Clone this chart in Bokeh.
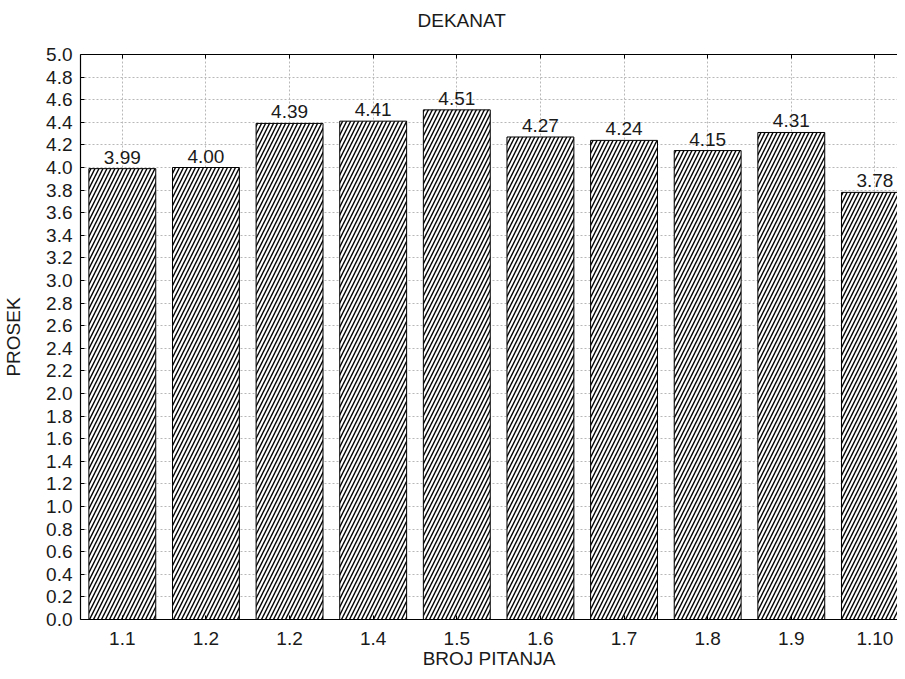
from bokeh.plotting import figure
from bokeh.models import FixedTicker, LinearAxis, Range1d, ColumnDataSource, Title
from bokeh.core.properties import value
from bokeh.embed import file_html
from bokeh.resources import INLINE

categories = ["1.1", "1.2", "1.2", "1.4", "1.5", "1.6", "1.7", "1.8", "1.9", "1.10"]
values = [3.99, 4.00, 4.39, 4.41, 4.51, 4.27, 4.24, 4.15, 4.31, 3.78]
y_ticks = [round(i * 0.2, 1) for i in range(26)]

positions = list(range(1, len(categories) + 1))
labels_txt = ["%.2f" % v for v in values]
src = ColumnDataSource(dict(x=positions, top=values, lab=labels_txt))

FONT = "Liberation Sans"
FS = "19px"

title = Title(text="DEKANAT", text_font=FONT, text_font_size=FS, text_font_style="normal",
              text_color="#1a1a1a", align="left", offset=337, standoff=14)

p = figure(width=897, height=671, output_backend="svg", toolbar_location=None,
           x_range=Range1d(0.5, 10.27), y_range=Range1d(0, 5.0),
           min_border_left=0, min_border_right=0, min_border_top=0, min_border_bottom=0,
           title=title)

p.outline_line_color = None

# grids
p.xgrid.ticker = FixedTicker(ticks=positions)
p.ygrid.ticker = FixedTicker(ticks=y_ticks)
for g in (p.xgrid, p.ygrid):
    g.grid_line_color = "#b8b8b8"
    g.grid_line_dash = "2 2"
    g.grid_line_width = 1

# bars
p.vbar(x="x", top="top", width=0.8, bottom=0, source=src,
       fill_color="white", line_color="black", line_width=1,
       hatch_pattern="/", hatch_color="black", hatch_scale=8, hatch_weight=1.4)

p.text(x="x", y="top", text="lab", source=src, y_offset=-5,
       text_align="center", text_baseline="bottom",
       text_font=value(FONT), text_font_size=FS, text_color="#1a1a1a")

# x axis
xa = p.xaxis[0]
xa.ticker = FixedTicker(ticks=positions)
xa.major_label_overrides = {i: c for i, c in zip(positions, categories)}
xa.axis_label = "BROJ PITANJA"
xa.axis_label_standoff = 0
xa.major_label_standoff = 12
# y axis
ya = p.yaxis[0]
ya.ticker = FixedTicker(ticks=y_ticks)
ya.major_label_overrides = {t: "%.1f" % t for t in y_ticks}
ya.axis_label = "PROSEK"
ya.axis_label_standoff = 19
ya.major_label_standoff = 8

for ax in (xa, ya):
    ax.axis_line_color = "black"
    ax.axis_line_width = 1.2
    ax.major_tick_in = 4
    ax.major_tick_out = 0
    ax.major_tick_line_color = "black"
    ax.minor_tick_line_color = None
    ax.major_label_text_font = FONT
    ax.major_label_text_font_size = FS
    ax.major_label_text_color = "#1a1a1a"
    ax.axis_label_text_font = FONT
    ax.axis_label_text_font_size = FS
    ax.axis_label_text_font_style = "normal"
    ax.axis_label_text_color = "#1a1a1a"

# top axis with inward ticks, no labels
top = LinearAxis(ticker=FixedTicker(ticks=positions))
top.major_label_text_font_size = "1px"
top.major_label_text_color = None
top.major_label_standoff = 0
top.major_tick_in = 4
top.major_tick_out = 0
top.minor_tick_line_color = None
top.axis_line_color = "black"
top.axis_line_width = 1.2
top.major_tick_line_color = "black"
p.add_layout(top, "above")

# invisible spacer axis between title and frame
spacer = LinearAxis(ticker=FixedTicker(ticks=positions))
spacer.major_label_text_font_size = "1px"
spacer.major_label_text_color = None
spacer.major_label_standoff = 0
spacer.major_tick_in = 0
spacer.major_tick_out = 17
spacer.major_tick_line_color = None
spacer.minor_tick_line_color = None
spacer.axis_line_color = None
p.add_layout(spacer, "above")

open("out.html", "w").write(file_html(p, INLINE))
